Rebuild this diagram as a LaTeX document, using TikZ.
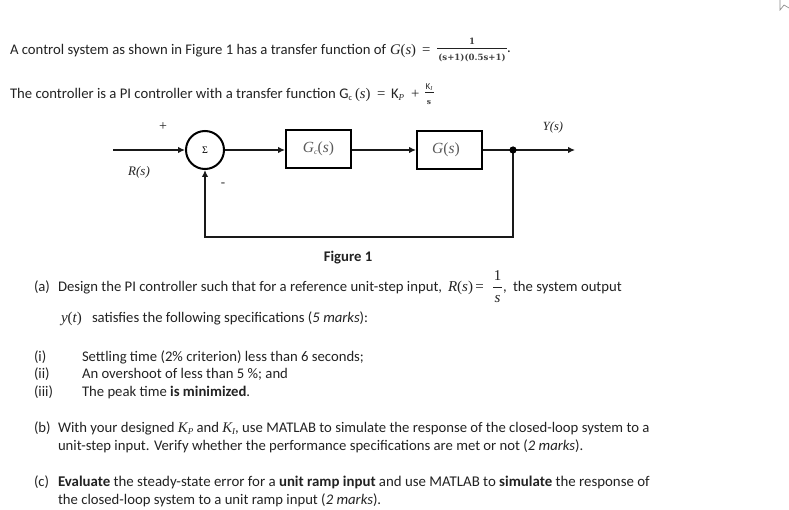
\documentclass[tikz,border=0pt]{standalone}
\usepackage{fontspec}
\setmainfont{Carlito}
\newfontfamily\serifm{Liberation Serif}
\newfontfamily\dejam{DejaVu Serif}
\usetikzlibrary{arrows.meta}
\definecolor{txt}{HTML}{222222}
\tikzset{
  t/.style={anchor=base west,inner sep=0pt,outer sep=0pt,text=txt,font=\fontsize{14.7}{17}\selectfont},
  c/.style={anchor=center,inner sep=0pt,outer sep=0pt,text=txt},
  blk/.style={draw=black,line width=2pt,fill=white,minimum width=65pt,minimum height=38pt,inner sep=0pt,font=\serifm\fontsize{15.5}{17}\selectfont,text=black!65},
  sumn/.style={circle,draw=black,line width=2pt,minimum size=38pt,inner sep=0pt,font=\serifm\fontsize{10}{11}\selectfont},
  wire/.style={line width=1.3pt,draw=black!90},
  arr/.style={wire,-{Latex[length=7pt,width=6.5pt]}},
  lab/.style={c,font=\serifm\itshape\fontsize{12.5}{14}\selectfont},
  rule/.style={line width=0.6pt,draw=txt},
  frs/.style={c,font=\dejam\bfseries\fontsize{8.6}{10}\selectfont,text=black!75}
}
\begin{document}
\begin{tikzpicture}[x=1pt,y=-1pt]
\useasboundingbox (0,0) rectangle (789,510);
% window mark
\draw[line width=0.7pt,draw=black!45] (780,0) -- (780,10) -- (784,5) -- (789,8);
% header
\node[t] (h1) at (10,54.5) {A control system as shown in Figure 1 has a transfer function of};
\node[t] (h1g) at (390,54.5) {\serifm\itshape G\upshape(\itshape s\upshape)};
\node[t] (h1e) at (422,54.5) {\serifm =};
\node[frs] (fn) at (472,41) {1};
\node[frs] (fd) at (472,58) {(s+1)(0.5s+1)};
\draw[rule] (437,48) -- (507,48);
\node[t,anchor=base] (fdot) at (509,53) {.};
\node[t] (h2) at (10,99) {The controller is a PI controller with a transfer function G\raisebox{-1.5pt}{\fontsize{8}{9}\selectfont c}};
\node[t] (h2s) at (355,99) {\serifm(\itshape s\upshape)};
\node[t] (h2e) at (377,99) {\serifm =};
\node[t] (h2k) at (391,99) {K\raisebox{-2pt}{\serifm\itshape\fontsize{9}{10}\selectfont P}};
\node[t] (h2p) at (411,99) {\serifm +};
\node[c,font=\fontsize{9}{10}\selectfont] (ki) at (429,87) {K\raisebox{-1.5pt}{\serifm\itshape\fontsize{6}{7}\selectfont I}};
\node[frs,font=\dejam\bfseries\fontsize{7.5}{8}\selectfont] (kis) at (429,102.5) {s};
\draw[rule] (425,92) -- (434,92);
% block diagram
\node[sumn] (sum) at (205,150) {\raisebox{-3pt}{Σ}};
\node[blk] (gc) at (318.5,149) {\raisebox{1pt}{\itshape G\raisebox{-2pt}{\fontsize{8}{9}\selectfont c}\upshape(\itshape s\upshape)}};
\node[blk] (g) at (449.5,150) {\hspace*{-7pt}\raisebox{3pt}{\itshape G\upshape(\itshape s\upshape)}};
\coordinate (in) at (113,150);
\coordinate (br) at (513,150);
\coordinate (out) at (575,150);
\coordinate (bl) at (205,237);
\coordinate (brb) at (513,237);
\draw[arr] (in) -- (sum.west);
\draw[arr] (sum.east) -- (sum.east -| gc.west);
\draw[arr] (gc.east |- g.west) -- (g.west);
\draw[wire] (g.east) -- (br);
\draw[arr] (br) -- (out);
\draw[arr] (br) -- (brb) -- (bl) -- (sum.south);
\fill[black] (br) circle (3.6pt);
\node[c,font=\serifm\fontsize{14}{15}\selectfont] (plus) at (163,127) {+};
\node[c,font=\serifm\fontsize{13}{14}\selectfont] (minus) at (223,185) {-};
\node[lab,font=\serifm\itshape\fontsize{13}{14}\selectfont] (rs) at (139,172) {R(s)};
\node[lab] (ys) at (553,127) {Y(s)};
\node[c,font=\bfseries\fontsize{14.7}{17}\selectfont] (figc) at (348,258) {Figure 1};
% part a
\node[t] (a0) at (34,292) {(a)};
\node[t] (a1) at (58,292) {Design the PI controller such that for a reference unit-step input,};
\node[t,font=\serifm\fontsize{15}{17}\selectfont] (a1m) at (448,292) {\itshape R\upshape(\itshape s\upshape)\,=};
\node[c,font=\serifm\fontsize{15}{17}\selectfont] (a1n) at (497.5,276) {1};
\node[c,font=\serifm\itshape\fontsize{15}{17}\selectfont] (a1d) at (497.5,299) {s};
\draw[rule] (493,287) -- (502,287);
\node[t] (a1c) at (503,292) {,};
\node[t] (a1e) at (513,292) {the system output};
\node[t,font=\serifm\fontsize{15}{17}\selectfont] (a2m) at (61,323) {\itshape y\upshape(\itshape t\upshape)};
\node[t] (a2) at (92,323) {satisfies the following specifications (\textit{5 marks}):};
\node[t] (i1) at (34,361) {(i)};
\node[t] (i1t) at (82,361) {Settling time (2\% criterion) less than 6 seconds;};
\node[t] (i2) at (34,378.5) {(ii)};
\node[t] (i2t) at (82,378.5) {An overshoot of less than 5 \%; and};
\node[t] (i3) at (34,396.5) {(iii)};
\node[t] (i3t) at (82,396.5) {The peak time \textbf{is minimized}.};
% part b
\node[t] (b0) at (34,432) {(b)};
\node[t] (b1) at (58,432) {With your designed \serifm\itshape K\raisebox{-2pt}{\fontsize{9}{10}\selectfont P}\rmfamily\upshape\ and \serifm\itshape K\raisebox{-2pt}{\fontsize{9}{10}\selectfont I}\rmfamily\upshape, use MATLAB to simulate the response of the closed-loop system to a};
\node[t] (b2) at (58,450) {unit-step input. Verify whether the performance specifications are met or not (\textit{2 marks}).};
% part c
\node[t] (c0) at (34,486) {(c)};
\node[t,font=\fontsize{14.87}{17}\selectfont] (c1) at (58,486) {\textbf{Evaluate} the steady-state error for a \textbf{unit ramp input} and use MATLAB to \textbf{simulate} the response of};
\node[t] (c2) at (58,504) {the closed-loop system to a unit ramp input (\textit{2 marks}).};
\end{tikzpicture}
\end{document}
